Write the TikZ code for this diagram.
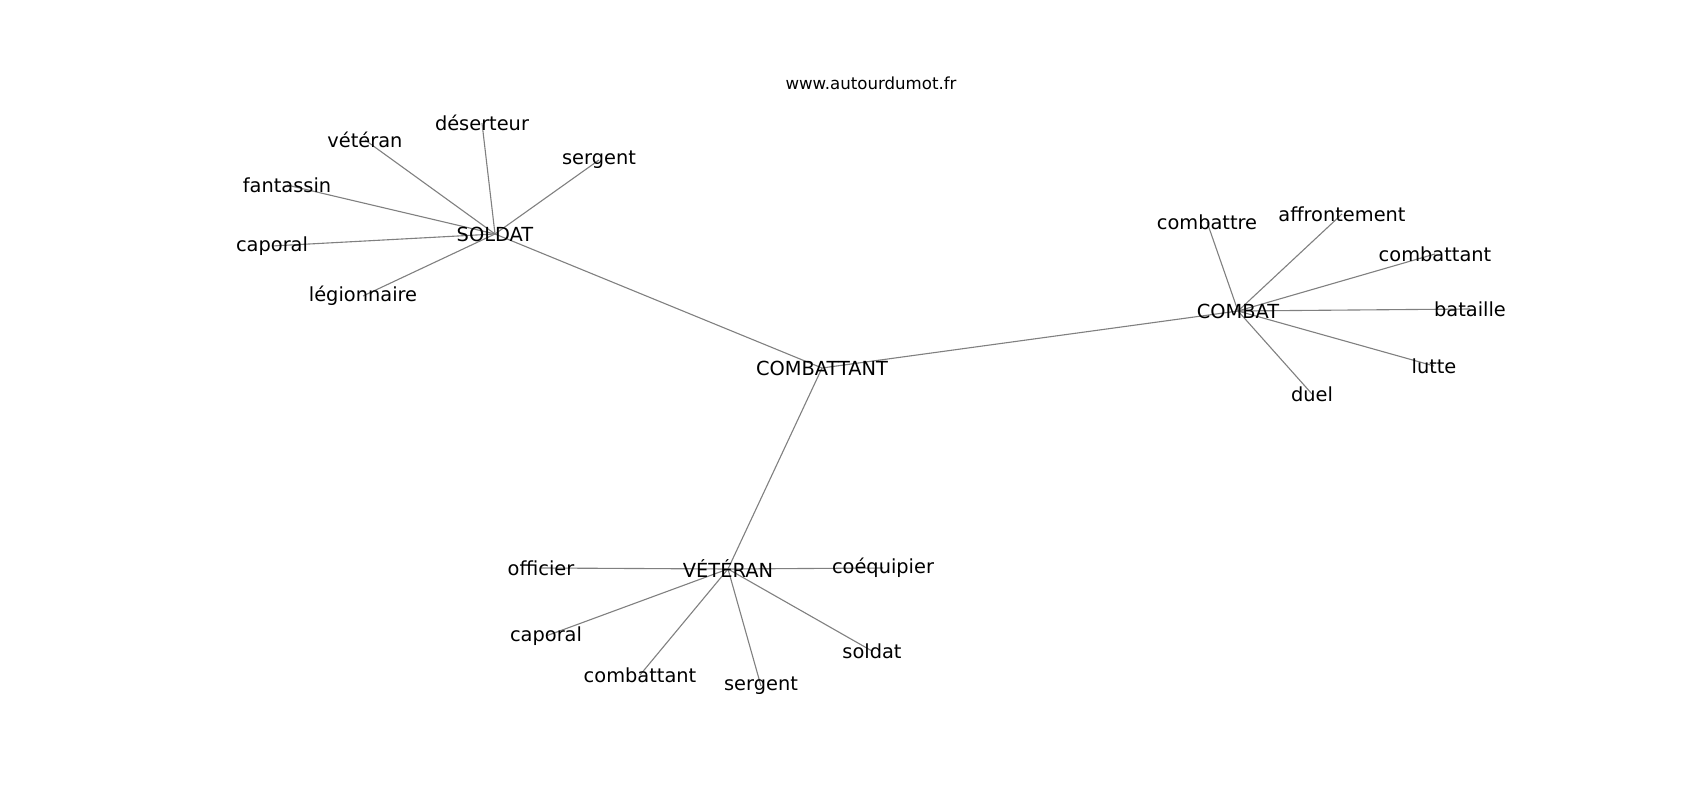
\documentclass[tikz,border=0pt]{standalone}
\usepackage{fontspec}
\setmainfont{DejaVu Sans}
\usetikzlibrary{backgrounds}
\begin{document}
\begin{tikzpicture}[x=0.01in, y=-0.01in,
        word/.style={inner sep=0pt, font=\fontsize{14pt}{16pt}\selectfont},
        link/.style={draw=gray, line width=0.8pt}]
        \useasboundingbox (0,0) rectangle (1700,800);
        \node[inner sep=0pt, font=\fontsize{12pt}{14pt}\selectfont] (site) at (871,83) {www.autourdumot.fr};

        \node[word] (combattant) at (822,368) {COMBATTANT};
        \node[word] (soldat) at (495,234) {SOLDAT};
        \node[word] (combat) at (1238,311) {COMBAT};
        \node[word] (veteran) at (728,569) {VÉTÉRAN};

        \node[word] (sDeserteur) at (482,123) {déserteur};
        \node[word] (sVeteran) at (365,140) {vétéran};
        \node[word] (sSergent) at (599,160) {sergent};
        \node[word] (sFantassin) at (287,185) {fantassin};
        \node[word] (sCaporal) at (272,246) {caporal};
        \node[word] (sLegionnaire) at (363,296) {légionnaire};

        \node[word] (cCombattre) at (1207,222) {combattre};
        \node[word] (cAffrontement) at (1342,214) {affrontement};
        \node[word] (cCombattant) at (1435,254) {combattant};
        \node[word] (cBataille) at (1470,309) {bataille};
        \node[word] (cLutte) at (1434,366) {lutte};
        \node[word] (cDuel) at (1312,394) {duel};

        \node[word] (vOfficier) at (541,568) {officier};
        \node[word] (vCoequipier) at (883,568) {coéquipier};
        \node[word] (vCaporal) at (546,636) {caporal};
        \node[word] (vCombattant) at (640,675) {combattant};
        \node[word] (vSergent) at (761,686) {sergent};
        \node[word] (vSoldat) at (872,651) {soldat};

        \begin{scope}[on background layer]
        \draw[link] (combattant.center) -- (soldat.center);
        \draw[link] (combattant.center) -- (combat.center);
        \draw[link] (combattant.center) -- (veteran.center);

        \draw[link] (soldat.center) -- (sDeserteur.center);
        \draw[link] (soldat.center) -- (sVeteran.center);
        \draw[link] (soldat.center) -- (sSergent.center);
        \draw[link] (soldat.center) -- (sFantassin.center);
        \draw[link] (soldat.center) -- (sCaporal.center);
        \draw[link] (soldat.center) -- (sLegionnaire.center);

        \draw[link] (combat.center) -- (cCombattre.center);
        \draw[link] (combat.center) -- (cAffrontement.center);
        \draw[link] (combat.center) -- (cCombattant.center);
        \draw[link] (combat.center) -- (cBataille.center);
        \draw[link] (combat.center) -- (cLutte.center);
        \draw[link] (combat.center) -- (cDuel.center);

        \draw[link] (veteran.center) -- (vOfficier.center);
        \draw[link] (veteran.center) -- (vCoequipier.center);
        \draw[link] (veteran.center) -- (vCaporal.center);
        \draw[link] (veteran.center) -- (vCombattant.center);
        \draw[link] (veteran.center) -- (vSergent.center);
        \draw[link] (veteran.center) -- (vSoldat.center);
        \end{scope}
    \end{tikzpicture}
\end{document}
